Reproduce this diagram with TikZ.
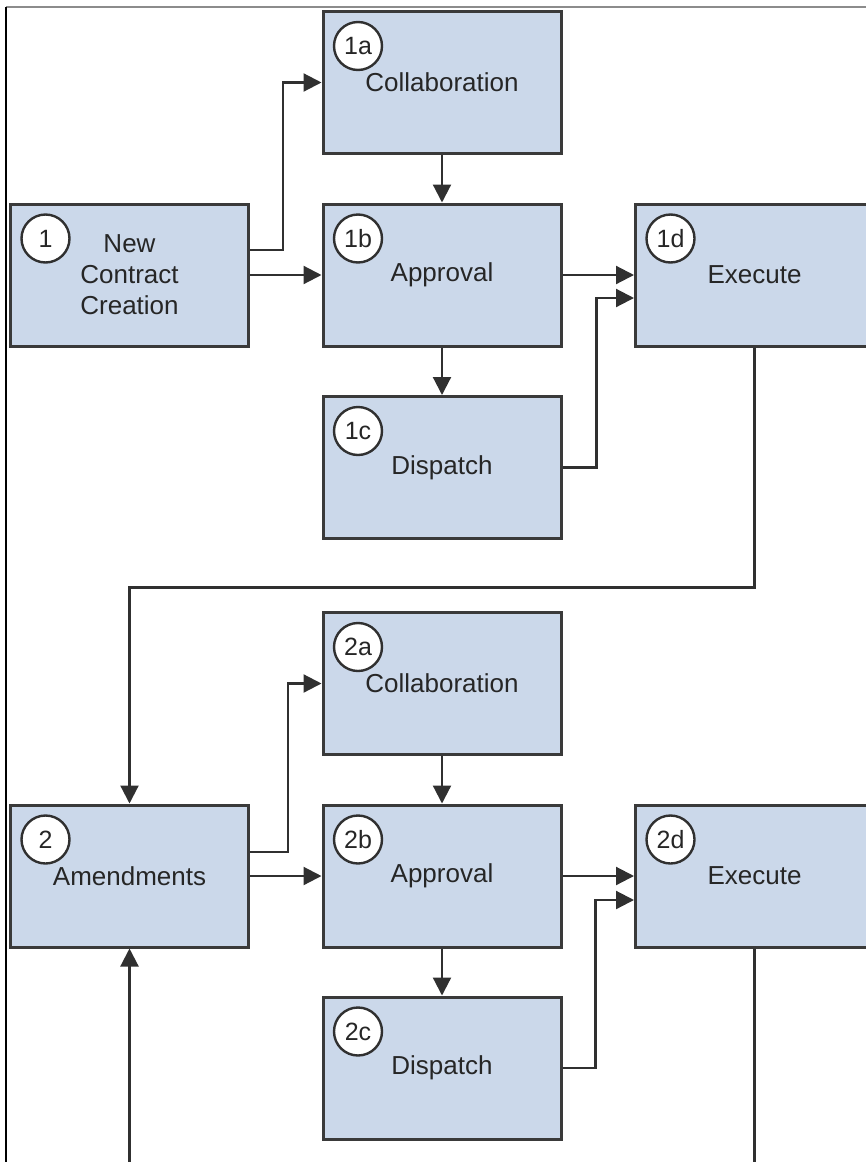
\documentclass[tikz,border=0pt]{standalone}
\usepackage{fontspec}
\setmainfont{Liberation Sans}
\usetikzlibrary{arrows.meta,calc,positioning}
\definecolor{Ink}{HTML}{262626}
\definecolor{Edge}{HTML}{3A3A3A}
\definecolor{Wire}{HTML}{303030}
\definecolor{Pale}{HTML}{CBD8EA}
\definecolor{Frame}{HTML}{8C8C8C}

\begin{document}
\begin{tikzpicture}[x=0.5pt,y=-0.5pt,
    stage/.style={draw=Edge,line width=1.5pt,fill=Pale,minimum width=119pt,minimum height=71pt,
      inner sep=0pt,align=center,text=Ink,font=\fontsize{13}{15.5}\selectfont},
    badge/.style={circle,draw=Wire,line width=1.2pt,fill=white,minimum size=24pt,inner sep=0pt,
      text=Ink,font=\fontsize{12.5}{14}\selectfont},
    flow/.style={draw=Wire,line width=1.1pt,-{Triangle[length=9pt,width=9pt]}},
    wire/.style={draw=Wire,line width=1.1pt}]
      \useasboundingbox (0,0) rectangle (866,1162);
      \clip (0,0) rectangle (866,1162);
      \draw[Frame,line width=0.8pt] (866,7) -- (6,7);
      \draw[black,line width=0.8pt] (6,7) -- (6,1162);
      \foreach \id/\x/\y/\txt in {
        1/129.5/275/{New\\Contract\\Creation},
        1a/442/82.5/Collaboration,
        1b/442/275/Approval,
        1c/442/467.5/Dispatch,
        1d/754.5/275/Execute,
        2/129.5/876/Amendments,
        2a/442/683.5/Collaboration,
        2b/442/876/Approval,
        2c/442/1068/Dispatch,
        2d/754.5/876/Execute}{
        \node[stage] (s\id) at (\x,\y) {\txt};
        \node[badge] (n\id) at ($(s\id.north west)+(36.5,36)$) {\id};
      }
      \draw[flow] ([yshift=12.5pt]s1.east) -- ++(33,0) |- (s1a.west);
      \draw[flow] (s1.east) -- (s1b.west);
      \draw[flow] (s1a.south) -- (s1b.north);
      \draw[flow] (s1b.east) -- (s1d.west);
      \draw[flow] (s1b.south) -- (s1c.north);
      \draw[flow] (s1c.east) -- ++(34,0) |- ([yshift=-11.5pt]s1d.west);
      \draw[flow] (s1d.south) -- ++(0,240) -| (s2.north);
      \draw[flow] ([yshift=12pt]s2.east) -- ++(38,0) |- (s2a.west);
      \draw[flow] (s2.east) -- (s2b.west);
      \draw[flow] (s2a.south) -- (s2b.north);
      \draw[flow] (s2b.east) -- (s2d.west);
      \draw[flow] (s2b.south) -- (s2c.north);
      \draw[flow] (s2c.east) -- ++(33,0) |- ([yshift=-12pt]s2d.west);
      \coordinate (tail) at (755,1170);
      \coordinate (feed) at (130,1170);
      \draw[wire] (s2d.south) -- (s2d.south |- tail);
      \draw[flow] (s2.south |- feed) -- (s2.south);
    \end{tikzpicture}
\end{document}
